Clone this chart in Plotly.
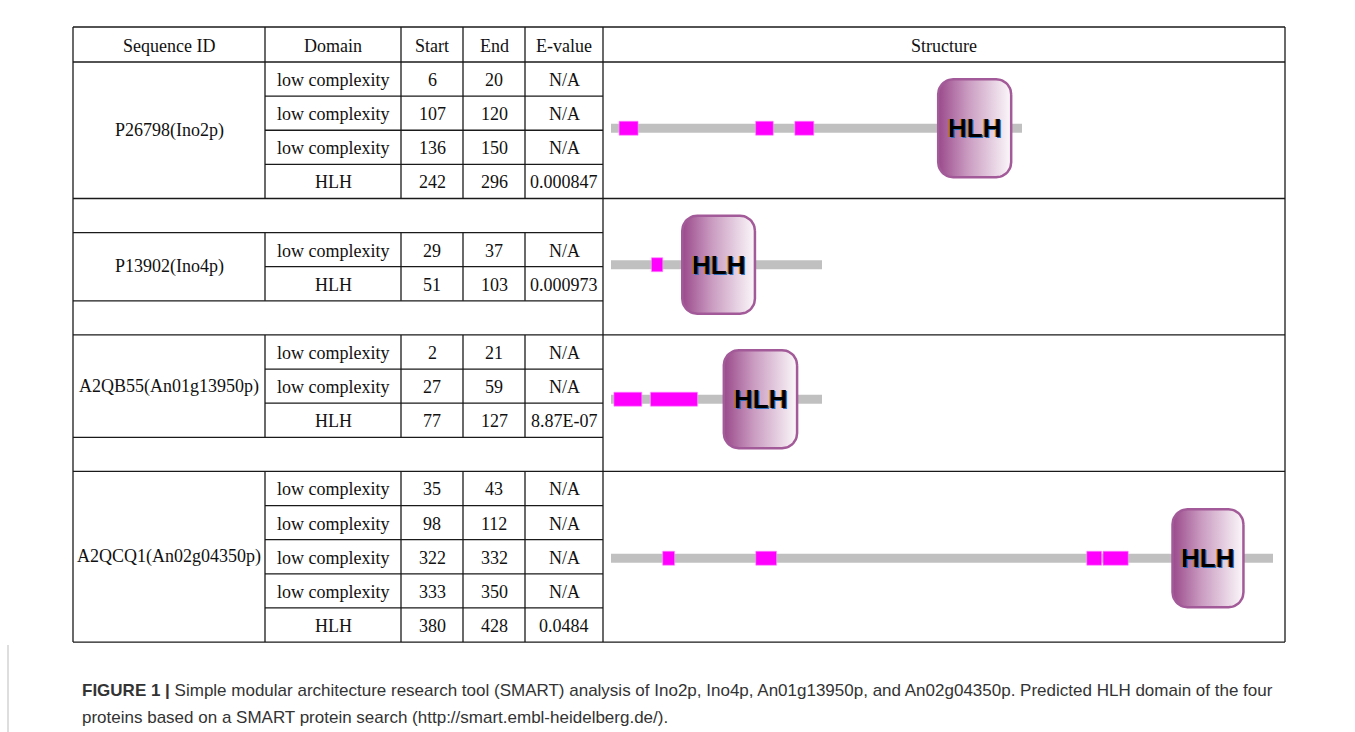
import numpy as np
import plotly.graph_objects as go

W, H = 1355, 732

# ---------------- data ----------------
headers = ["Sequence ID", "Domain", "Start", "End", "E-value", "Structure"]
seq_ids = ["P26798(Ino2p)", "P13902(Ino4p)", "A2QB55(An01g13950p)", "A2QCQ1(An02g04350p)"]
protein_lengths = [304, 151, 144, 448]
domain_names = [
    ["low complexity", "low complexity", "low complexity", "HLH"],
    ["low complexity", "HLH"],
    ["low complexity", "low complexity", "HLH"],
    ["low complexity", "low complexity", "low complexity", "low complexity", "HLH"],
]
domain_starts = [[6, 107, 136, 242], [29, 51], [2, 27, 77], [35, 98, 322, 333, 380]]
domain_ends = [[20, 120, 150, 296], [37, 103], [21, 59, 127], [43, 112, 332, 350, 428]]
evalues = [
    ["N/A", "N/A", "N/A", "0.000847"],
    ["N/A", "0.000973"],
    ["N/A", "N/A", "8.87E-07"],
    ["N/A", "N/A", "N/A", "N/A", "0.0484"],
]
caption_line1 = ("<b>FIGURE 1 |</b> Simple modular architecture research tool (SMART) analysis of "
                 "Ino2p, Ino4p, An01g13950p, and An02g04350p. Predicted HLH domain of the four")
caption_line2 = "proteins based on a SMART protein search (http://smart.embl-heidelberg.de/)."

# ---------------- layout constants ----------------
col_edges = [73, 265, 401, 463, 525, 603, 1285]
table_top, header_h, row_h = 27, 35, 34.12
struct_blocks = [(0, 4), (4, 8), (8, 12), (12, 17)]
struct_shift = [-2, -2, -4, 1.5]   # vertical nudge of each diagram (px)
struct_x0 = 611
struct_x1 = [1022, 822, 822, 1273]
LINE_C = "#1a1a1a"
SERIF = "Liberation Serif, Times New Roman, serif"
SANS = "Liberation Sans, Arial, sans-serif"

row_owner = []
row_item = []
for i, names in enumerate(domain_names):
    for j in range(len(names)):
        row_owner.append(i)
        row_item.append(j)
    if i < len(domain_names) - 1:
        row_owner.append(None)
        row_item.append(None)
n_rows = len(row_owner)


def ry(r):
    return table_top + header_h + r * row_h


def px(x):
    return x / W


def py(y):
    return 1 - y / H


shapes = []
annotations = []


def hline(x0, x1, y, w=1.3):
    shapes.append(dict(type="line", xref="paper", yref="paper", x0=px(x0), x1=px(x1),
                       y0=py(y), y1=py(y), line=dict(color=LINE_C, width=w)))


def vline(x, y0, y1, w=1.3):
    shapes.append(dict(type="line", xref="paper", yref="paper", x0=px(x), x1=px(x),
                       y0=py(y0), y1=py(y1), line=dict(color=LINE_C, width=w)))


def text(x, y, s, size=18, font=SERIF, color="#111111", xanchor="center"):
    annotations.append(dict(x=px(x), y=py(y), xref="paper", yref="paper", text=s,
                            showarrow=False, xanchor=xanchor, yanchor="middle",
                            font=dict(family=font, size=size, color=color)))


bottom = ry(n_rows)
# outer frame & header
hline(col_edges[0], col_edges[-1], table_top)
hline(col_edges[0], col_edges[-1], table_top + header_h)
hline(col_edges[0], col_edges[-1], bottom)
vline(col_edges[0], table_top, bottom)
vline(col_edges[-1], table_top, bottom)
vline(col_edges[5], table_top, bottom)
for c in range(1, 5):
    vline(col_edges[c], table_top, table_top + header_h)
for c, h in enumerate(headers):
    text((col_edges[c] + col_edges[c + 1]) / 2, table_top + header_h / 2 + 1, h)

# row boundaries
struct_bounds = {b[0] for b in struct_blocks[1:]}
for r in range(1, n_rows):
    if row_owner[r] is not None and row_owner[r] == row_owner[r - 1]:
        hline(col_edges[1], col_edges[5], ry(r))
    else:
        hline(col_edges[0], col_edges[5], ry(r))
    if r in struct_bounds:
        hline(col_edges[5], col_edges[6], ry(r))

# protein cells
for i in range(len(seq_ids)):
    rows = [r for r in range(n_rows) if row_owner[r] == i]
    y0, y1 = ry(rows[0]), ry(rows[-1] + 1)
    for c in range(1, 5):
        vline(col_edges[c], y0, y1)
    text((col_edges[0] + col_edges[1]) / 2, (y0 + y1) / 2, seq_ids[i])
    for r in rows:
        j = row_item[r]
        yc = ry(r) + row_h / 2 + 1
        vals = [domain_names[i][j], str(domain_starts[i][j]), str(domain_ends[i][j]), evalues[i][j]]
        for c, v in enumerate(vals):
            text((col_edges[c + 1] + col_edges[c + 2]) / 2, yc, v)

# ---------------- structure diagrams ----------------
fig = go.Figure()
layout_axes = {}


def rounded_rect(x0, x1, y0, y1, rx, rY, n=12):
    xs, ys = [], []
    corners = [
        (x1 - rx, y1 - rY, 0, 90),
        (x0 + rx, y1 - rY, 90, 180),
        (x0 + rx, y0 + rY, 180, 270),
        (x1 - rx, y0 + rY, 270, 360),
    ]
    for cx, cy, a0, a1 in corners:
        t = np.radians(np.linspace(a0, a1, n))
        xs.extend(cx + rx * np.cos(t))
        ys.extend(cy + rY * np.sin(t))
    xs.append(xs[0])
    ys.append(ys[0])
    return xs, ys


for i in range(len(seq_ids)):
    k = i + 1
    xa = "x" if k == 1 else f"x{k}"
    ya = "y" if k == 1 else f"y{k}"
    b0, b1 = struct_blocks[i]
    top_px, bot_px = ry(b0) + struct_shift[i], ry(b1) + struct_shift[i]
    half = (bot_px - top_px) / 2
    L = protein_lengths[i]
    scale = (struct_x1[i] - struct_x0) / L
    layout_axes["xaxis" + ("" if k == 1 else str(k))] = dict(
        domain=[px(struct_x0), px(struct_x1[i])], range=[0, L], visible=False,
        fixedrange=True, anchor=ya)
    layout_axes["yaxis" + ("" if k == 1 else str(k))] = dict(
        domain=[py(bot_px), py(top_px)], range=[-half, half], visible=False,
        fixedrange=True, anchor=xa)
    # backbone
    shapes.append(dict(type="rect", xref=xa, yref=ya, x0=0, x1=L, y0=-4.5, y1=4.5,
                       fillcolor="#c0c0c0", line=dict(width=0), layer="below"))
    for s, e, nm in zip(domain_starts[i], domain_ends[i], domain_names[i]):
        if nm == "low complexity":
            shapes.append(dict(type="rect", xref=xa, yref=ya, x0=s, x1=e, y0=-7, y1=7,
                               fillcolor="#ff00ff", line=dict(color="#ff88ff", width=0.6),
                               layer="below"))
        else:
            rxa = 15 / scale
            xs, ys = rounded_rect(s, e, -49, 49, rxa, 15)
            fig.add_trace(go.Scatter(
                x=xs, y=ys, xaxis=xa, yaxis=ya, mode="lines", fill="toself",
                fillgradient=dict(type="horizontal",
                                  colorscale=[[0, "#9a4a8b"], [0.4, "#c99ac0"], [1, "#fbf8fa"]]),
                line=dict(color="#a35a98", width=2.5), hoverinfo="skip", showlegend=False))
            annotations.append(dict(x=(s + e) / 2, y=0, xref=xa, yref=ya, text="<b>HLH</b>",
                                    showarrow=False, xanchor="center", yanchor="middle",
                                    font=dict(family=SANS, size=26, color="#000000",
                                              shadow="-1px 0px 0px #c8872a, 1px 1px 0px #2f6fc0")))

# ---------------- caption ----------------
annotations.append(dict(x=px(80), y=py(690), xref="paper", yref="paper", text=caption_line1,
                        showarrow=False, xanchor="left", yanchor="middle",
                        font=dict(family=SANS, size=17, color="#333333")))
annotations.append(dict(x=px(80), y=py(717), xref="paper", yref="paper", text=caption_line2,
                        showarrow=False, xanchor="left", yanchor="middle",
                        font=dict(family=SANS, size=17, color="#333333")))
shapes.append(dict(type="line", xref="paper", yref="paper", x0=px(8), x1=px(8),
                   y0=py(645), y1=py(732), line=dict(color="#bdbdbd", width=1)))

fig.update_layout(
    width=W, height=H, margin=dict(l=0, r=0, t=0, b=0),
    paper_bgcolor="white", plot_bgcolor="rgba(0,0,0,0)",
    shapes=shapes, annotations=annotations, showlegend=False,
    **layout_axes,
)
fig.write_html("out.html", config={"displayModeBar": False},
               post_script="document.body.style.margin='0px';")
